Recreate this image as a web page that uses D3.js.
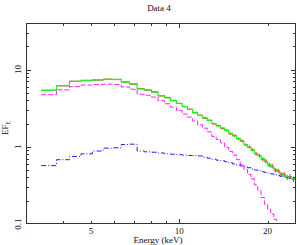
<!DOCTYPE html>
<html>
<head>
<meta charset="utf-8">
<script src="https://cdn.jsdelivr.net/npm/d3@7"></script>
<style>
  body { margin: 0; background: #fff; }
  text { font-family: "Liberation Serif", "DejaVu Serif", serif; fill: #111; }
</style>
</head>
<body>
<div id="chart"></div>
<script>
// energy bins (keV)
var binLo = [3.38, 3.81, 4.22, 4.62, 5.05, 5.5, 5.92, 6.34, 6.76, 7.18, 7.6, 8.03, 8.46, 8.9, 9.34, 9.78,
  10.22, 10.66, 11.1, 11.55, 12.0, 12.45, 12.9, 13.36, 13.82, 14.28, 14.74, 15.2, 15.67, 16.14, 16.61,
  17.08, 17.56, 18.04, 18.52, 19.0, 19.5, 20.0, 20.5, 21.0, 21.5, 22.0, 22.5, 23.05, 23.6, 24.15];
var binHi = [3.81, 4.22, 4.62, 5.05, 5.5, 5.92, 6.34, 6.76, 7.18, 7.6, 8.03, 8.46, 8.9, 9.34, 9.78, 10.22,
  10.66, 11.1, 11.55, 12.0, 12.45, 12.9, 13.36, 13.82, 14.28, 14.74, 15.2, 15.67, 16.14, 16.61, 17.08,
  17.56, 18.04, 18.52, 19.0, 19.5, 20.0, 20.5, 21.0, 21.5, 22.0, 22.5, 23.05, 23.6, 24.15, 24.9];

// unfolded data (red crosses)
var dataVal = [5.4, 6.15, 7.05, 7.25, 7.3, 7.5, 7.4, 6.9, 6.45, 5.65, 5.4, 5.15, 4.55, 4.35, 3.95, 3.65,
  3.3, 3.06, 2.75, 2.56, 2.34, 2.2, 1.98, 1.88, 1.73, 1.64, 1.47, 1.4, 1.27, 1.19, 1.06, 0.99, 0.91, 0.81,
  0.77, 0.69, 0.65, 0.58, 0.56, 0.5, 0.49, 0.44, 0.44, 0.4, 0.41, 0.38];
var dataErr = [0.05, 0.05, 0.05, 0.05, 0.05, 0.05, 0.05, 0.05, 0.05, 0.05, 0.05, 0.05, 0.05, 0.05, 0.05, 0.05,
  0.05, 0.05, 0.05, 0.05, 0.05, 0.05, 0.05, 0.05, 0.05, 0.05, 0.05, 0.05, 0.05, 0.05, 0.04, 0.04, 0.04, 0.04,
  0.04, 0.04, 0.04, 0.035, 0.035, 0.035, 0.03, 0.03, 0.03, 0.03, 0.03, 0.03];

// total model (green)
var modelTotal = [5.35, 6.2, 7.0, 7.2, 7.35, 7.45, 7.45, 6.85, 6.5, 5.6, 5.45, 5.1, 4.6, 4.3, 3.97, 3.63,
  3.32, 3.04, 2.78, 2.54, 2.36, 2.19, 2.0, 1.86, 1.75, 1.62, 1.49, 1.38, 1.28, 1.17, 1.07, 0.98, 0.9, 0.82,
  0.76, 0.7, 0.64, 0.59, 0.55, 0.51, 0.48, 0.45, 0.43, 0.41, 0.4, 0.39];

// component 1 (magenta, dashed)
var modelComp1 = [4.72, 5.45, 6.0, 6.3, 6.4, 6.45, 6.4, 5.95, 5.55, 4.8, 4.65, 4.4, 3.95, 3.6, 3.25, 2.95,
  2.65, 2.42, 2.15, 1.92, 1.74, 1.56, 1.36, 1.24, 1.12, 0.98, 0.87, 0.78, 0.68, 0.59, 0.51, 0.44, 0.385,
  0.32, 0.27, 0.22, 0.18, 0.155, 0.135, 0.115, 0.095, 0.08];

// component 2 (blue, dash-dot)
var modelComp2 = [0.57, 0.68, 0.75, 0.81, 0.88, 0.96, 0.97, 1.07, 1.08, 0.88, 0.86, 0.85, 0.83, 0.81, 0.80,
  0.79, 0.78, 0.77, 0.77, 0.76, 0.73, 0.71, 0.69, 0.67, 0.66, 0.64, 0.62, 0.60, 0.58, 0.565, 0.55, 0.535,
  0.515, 0.50, 0.49, 0.475, 0.465, 0.455, 0.445, 0.435, 0.425, 0.415, 0.405, 0.40, 0.39, 0.385];

// axis ticks
var xTickVals = [3, 4, 5, 6, 7, 8, 9, 10, 20];
var xMajor = [10];
var xLabels = [5, 10, 20];
var yTickVals = [0.2, 0.3, 0.4, 0.5, 0.6, 0.7, 0.8, 0.9, 1, 2, 3, 4, 5, 6, 7, 8, 9, 10, 20, 30];
var yMajor = [1, 10];
var yLabels = [0.1, 1, 10];

var width = 297, height = 245;
var mLeft = 26, mRight = 296, mTop = 23, mBottom = 224;

var x = d3.scaleLog().domain([3, 25]).range([mLeft, mRight]);
var y = d3.scaleLog().domain([0.1, 40]).range([mBottom, mTop]);

var svg = d3.select("#chart").append("svg")
  .attr("width", width)
  .attr("height", height);

svg.append("defs").append("clipPath").attr("id", "plotClip")
  .append("rect").attr("x", mLeft).attr("y", mTop)
  .attr("width", mRight - mLeft).attr("height", mBottom - mTop);

var plot = svg.append("g").attr("clip-path", "url(#plotClip)");

// turn bin values into a step outline
function steps(vals) {
  var pts = [];
  vals.forEach(function(v, i) {
    pts.push([binLo[i], v]);
    pts.push([binHi[i], v]);
  });
  return pts;
}
var line = d3.line().x(function(d) { return x(d[0]); }).y(function(d) { return y(d[1]); });

// data crosses (drawn underneath the model)
dataVal.forEach(function(v, i) {
  var xc = Math.sqrt(binLo[i] * binHi[i]);
  plot.append("line")
    .attr("x1", x(binLo[i])).attr("x2", x(binHi[i]))
    .attr("y1", y(v)).attr("y2", y(v))
    .attr("stroke", "#e8261e").attr("stroke-width", 1);
  plot.append("line")
    .attr("x1", x(xc)).attr("x2", x(xc))
    .attr("y1", y(v - dataErr[i])).attr("y2", y(v + dataErr[i]))
    .attr("stroke", "#e8261e").attr("stroke-width", 1);
});

plot.append("path").attr("d", line(steps(modelComp2)))
  .attr("fill", "none").attr("stroke", "#1f1fff").attr("stroke-width", 1)
  .attr("stroke-dasharray", "5,2,1,2");

plot.append("path").attr("d", line(steps(modelComp1)))
  .attr("fill", "none").attr("stroke", "#ff1fff").attr("stroke-width", 1)
  .attr("stroke-dasharray", "5,2");

plot.append("path").attr("d", line(steps(modelTotal)))
  .attr("fill", "none").attr("stroke", "#22ee22").attr("stroke-width", 1.2);

// frame
svg.append("rect")
  .attr("x", mLeft + 0.5).attr("y", mTop + 0.5)
  .attr("width", mRight - mLeft - 1).attr("height", mBottom - mTop - 1)
  .attr("fill", "none").attr("stroke", "#333").attr("stroke-width", 1);

// ticks, inside on all four sides
var axes = svg.append("g").attr("stroke", "#333").attr("stroke-width", 1);
xTickVals.forEach(function(t) {
  var len = xMajor.indexOf(t) >= 0 ? 5 : 3;
  var px = Math.round(x(t)) + 0.5;
  axes.append("line").attr("x1", px).attr("x2", px).attr("y1", mTop).attr("y2", mTop + len);
  axes.append("line").attr("x1", px).attr("x2", px).attr("y1", mBottom).attr("y2", mBottom - len);
});
yTickVals.forEach(function(t) {
  var len = yMajor.indexOf(t) >= 0 ? 5 : 3;
  var py = Math.round(y(t)) + 0.5;
  axes.append("line").attr("x1", mLeft).attr("x2", mLeft + len).attr("y1", py).attr("y2", py);
  axes.append("line").attr("x1", mRight).attr("x2", mRight - len).attr("y1", py).attr("y2", py);
});

// tick labels
xLabels.forEach(function(t) {
  svg.append("text").attr("x", x(t)).attr("y", 234)
    .attr("text-anchor", "middle").attr("font-size", 9).text(t);
});
yLabels.forEach(function(t) {
  svg.append("text")
    .attr("transform", "translate(21," + y(t) + ") rotate(-90)")
    .attr("text-anchor", "middle").attr("font-size", 9).text(t);
});

// titles
svg.append("text").attr("x", 159).attr("y", 11)
  .attr("text-anchor", "middle").attr("font-size", 9).text("Data 4");
svg.append("text").attr("x", 158).attr("y", 243)
  .attr("text-anchor", "middle").attr("font-size", 9).text("Energy (keV)");

var yl = svg.append("text")
  .attr("transform", "translate(8,128) rotate(-90)")
  .attr("text-anchor", "middle").attr("font-size", 9);
yl.append("tspan").text("EF");
yl.append("tspan").attr("font-size", 6).attr("dy", 2).text("E");
</script>
</body>
</html>
